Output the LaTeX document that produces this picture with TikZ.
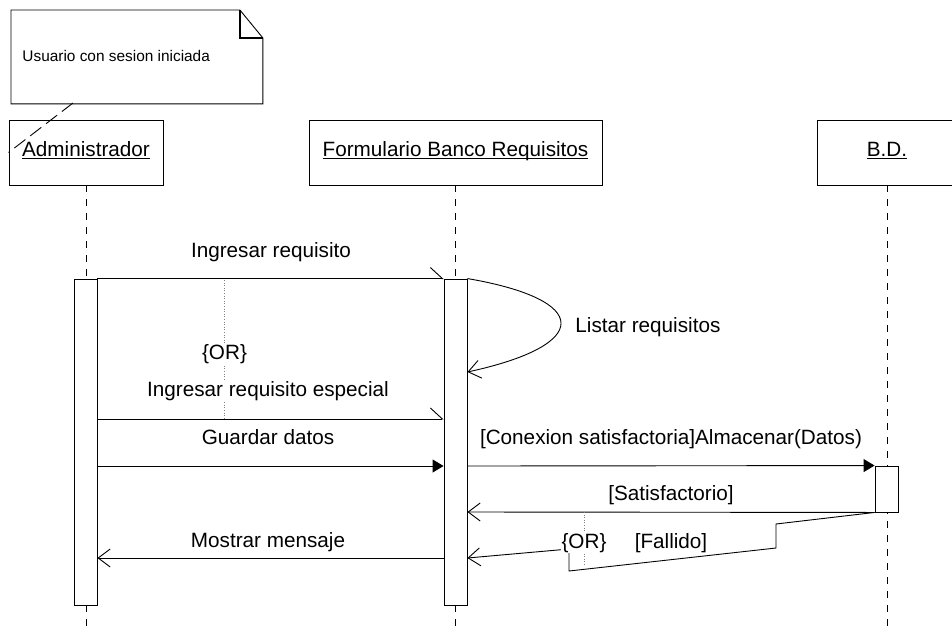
\documentclass[tikz,border=0pt]{standalone}
\usepackage{fontspec}
\setmainfont{Liberation Sans}
\usetikzlibrary{arrows.meta}
% underlined object name with a fixed strut so all titles share one baseline
\newcommand\ulin[1]{\setbox0\hbox{#1}\rlap{\rule[-2.5pt]{\wd0}{0.9pt}}\rule[-7pt]{0pt}{21pt}\box0}

\begin{document}
\begin{tikzpicture}[x=1pt,y=-1pt,line width=0.9pt,
  every node/.style={font=\fontsize{20.7}{24}\selectfont},
  objbox/.style={draw, minimum height=65pt, inner sep=0pt},
  actbar/.style={draw, fill=white, minimum width=23pt, inner sep=0pt},
  lifeline/.style={dash pattern=on 7pt off 7pt},
  msg/.style={fill=white, inner sep=1pt, anchor=base},
  halfarr/.style={-{Straight Barb[left,length=12pt,width=22pt]}},
  openarr/.style={-{Straight Barb[length=12pt,width=18pt]}},
  callarr/.style={-{Triangle[length=11pt,width=13pt]}},
  orline/.style={dotted, line width=0.6pt, gray}]
\useasboundingbox (0,0) rectangle (952,632);

% message levels
\coordinate (bottom) at (0,632);
\coordinate (lvLista) at (0,372);
\coordinate (lvEsp) at (0,419);
\coordinate (lvGuard) at (0,466);
\coordinate (lvSat) at (0,512);
\coordinate (lvMostr) at (0,558);

% note
\node[anchor=north west, minimum width=251pt, minimum height=93pt, inner sep=0pt] (note) at (11,10) {};
\draw (note.south west) -- (note.north west) -- ([xshift=-23pt]note.north east)
      -- ([yshift=-28pt]note.north east) -- (note.south east) -- cycle;
\draw[line width=1.4pt] ([xshift=-23pt]note.north east) |- ([yshift=-28pt]note.north east);
\node[anchor=base west, inner sep=0pt, font=\fontsize{15.4}{18}\selectfont] (notetext) at (22,61.5) {Usuario con sesion iniciada};

% objects
\node[objbox, minimum width=154pt] (admin) at (86,152.5) {\ulin{Administrador}};
\node[objbox, minimum width=293pt] (form) at (455.5,152.5) {\ulin{Formulario Banco Requisitos}};
\node[objbox, minimum width=140pt] (bd) at (887,152.5) {\ulin{B.D.}};

\coordinate (nl) at (73,103);
\draw[dash pattern=on 14pt off 6pt] (nl) -- (admin.west);

% lifelines
\draw[lifeline] (admin.south) -- (admin.south |- bottom);
\draw[lifeline] (form.south) -- (form.south |- bottom);
\draw[lifeline] (bd.south) -- (bd.south |- bottom);

% activations
\node[actbar, minimum height=326pt] (abar) at (85.5,442) {};
\node[actbar, minimum height=326pt] (fbar) at (455.5,442) {};
\node[actbar, minimum height=46pt] (bbar) at (886.5,489) {};

% messages
\draw[halfarr] (abar.north east) -- (fbar.north west);
\node[msg] at (271,257) {Ingresar requisito};

\draw[openarr] (fbar.north east) .. controls (592,300) and (592,345) .. (fbar.east |- lvLista);
\node[anchor=base west, inner sep=0pt] at (575,332) {Listar requisitos};

\draw[orline] (224,280) -- (224,419);
\node[msg] (or1) at (224.5,359) {\{OR\}};

\draw[halfarr] (abar.east |- lvEsp) -- (fbar.west |- lvEsp);
\node[msg] at (268,396) {Ingresar requisito especial};

\draw[callarr] (abar.east |- lvGuard) -- (fbar.west |- lvGuard);
\node[msg] at (268,444.5) {Guardar datos};

\draw[callarr] (fbar.east |- lvGuard) -- (bbar.north west);
\node[msg] at (671,444.5) {[Conexion satisfactoria]Almacenar(Datos)};

\draw[openarr] (bbar.south west) -- (fbar.east |- lvSat);
\node[msg] at (671,500) {[Satisfactorio]};

\draw[orline] (584,512) -- (584,566);
\draw[openarr] (bbar.south west) -- (776,524) -- (776,548) -- (569,571) -- (569,549) -- (fbar.east |- lvMostr);
\node[msg] (or2) at (584,548) {\{OR\}};
\node[msg] at (671,548) {[Fallido]};

\draw[openarr] (fbar.west |- lvMostr) -- (abar.east |- lvMostr);
\node[msg] at (268,547) {Mostrar mensaje};
\end{tikzpicture}
\end{document}
